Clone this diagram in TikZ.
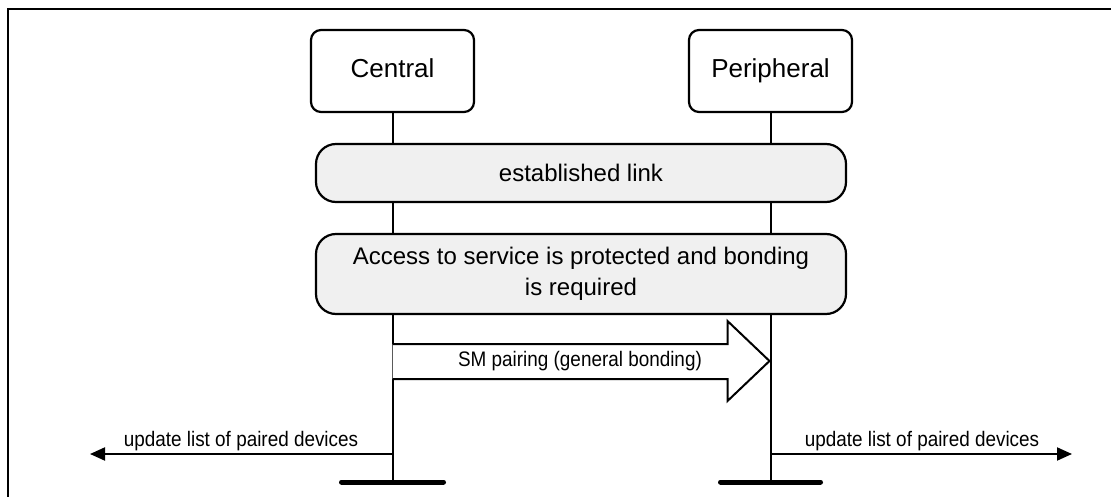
\documentclass[tikz,border=0pt]{standalone}
\usepackage{fontspec}
\setmainfont{Liberation Sans}
\newfontfamily\narrowfont[FakeStretch=0.9]{Liberation Sans}
\usetikzlibrary{arrows.meta,calc}
\definecolor{boxgray}{RGB}{240,240,240}
\begin{document}
\begin{tikzpicture}[x=1pt,y=-1pt,
  actor/.style={draw, line width=2.2pt, rounded corners=10pt, minimum width=163pt,
    minimum height=82pt, inner sep=0pt, fill=white, text height=18.7pt, text depth=5.5pt,
    font=\fontsize{26}{31}\selectfont},
  band/.style={draw, line width=2.2pt, rounded corners=20pt, minimum width=530pt,
    inner sep=0pt, fill=boxgray, align=center, font=\fontsize{24}{31}\selectfont},
  life/.style={line width=2pt},
  endbar/.style={line width=5pt, line cap=round},
  upd/.style={line width=2pt, -{Triangle[length=15pt,width=13pt]}},
  small/.style={inner sep=0pt, font=\narrowfont\fontsize{21}{25}\selectfont},
  bigarrow/.style={line width=2pt, fill=white, line join=miter}]
\useasboundingbox (0,0) rectangle (1111,497);
% frame
\draw[line width=2.5pt] (8,530) -- (8,9) -- (1140,9);
% actors
\node[actor] (c) at (392.5,71) {Central};
\node[actor] (p) at (770.5,71) {Peripheral};
\coordinate (cend) at (392.5,482);
\coordinate (pend) at (770.5,482);
% lifelines
\draw[life] (c.south) -- (cend);
\draw[life] (p.south) -- (pend);
\draw[endbar] ($(cend)+(-51,0)$) -- ($(cend)+(51,0)$);
\draw[endbar] ($(pend)+(-50,0)$) -- ($(pend)+(50,0)$);
% bands
\node[band, minimum height=58pt] (link) at (581,173) {established link};
\node[band, minimum height=80pt] (acc) at (581,274) {Access to service is protected and bonding\\is required};
% big arrow
\coordinate (a0) at (392.5,361);
\coordinate (a1) at (769.5,361);
\draw[bigarrow] ($(a0)+(0,-17)$) -- ($(a1)+(-42,-17)$) -- ($(a1)+(-42,-40)$) -- (a1)
  -- ($(a1)+(-42,40)$) -- ($(a1)+(-42,18)$) -- ($(a0)+(0,18)$);
\node[small] (sm) at (580,361) {SM pairing (general bonding)};
% update arrows
\coordinate (cu) at (392.5,454);
\coordinate (lt) at (90,454);
\coordinate (pu) at (770.5,454);
\coordinate (rt) at (1072,454);
\draw[upd] (cu) -- (lt);
\draw[upd] (pu) -- (rt);
\node[small] (ul) at (241,441) {update list of paired devices};
\node[small] (ur) at (922,441) {update list of paired devices};
\end{tikzpicture}
\end{document}
